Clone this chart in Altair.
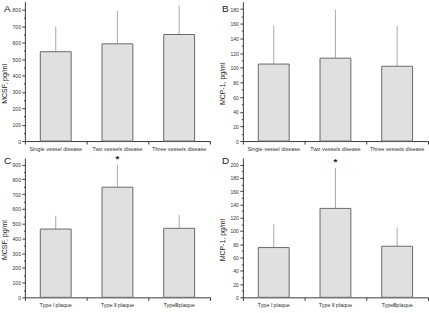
import altair as alt
import pandas as pd

# Group labels
vessel_groups = ["Single vessel disease", "Two vessels disease", "Three vessels disease"]
plaque_groups = ["Type Ⅰ plaque", "Type Ⅱ plaque", "TypeⅢplaque"]

# Means and standard deviations (pg/ml)
mcsf_vessel_mean = [545, 593, 650]
mcsf_vessel_sd = [152, 200, 177]
mcp_vessel_mean = [105, 113, 102]
mcp_vessel_sd = [52, 66, 55]
mcsf_plaque_mean = [463, 747, 468]
mcsf_plaque_sd = [90, 150, 90]
mcp_plaque_mean = [75, 134, 77]
mcp_plaque_sd = [35, 61, 28]

# Significance markers
plaque_marks = ["", "*", ""]
no_marks = ["", "", ""]

# Y-axis tick positions (labelled majors, unlabelled minors in between)
mcsf_vessel_ticks = list(range(0, 801, 50))
mcp_vessel_ticks = list(range(0, 181, 10))
mcsf_plaque_ticks = list(range(0, 901, 50))
mcp_plaque_ticks = list(range(0, 201, 10))

FONT = "Liberation Sans"
AXIS_COLOR = "#3a3a3a"


def panel(letter, groups, means, sds, marks, ytitle, ymax, ticks, major, letter_y):
    df = pd.DataFrame({"group": groups, "mean": means, "sd": sds, "mark": marks})
    df["upper"] = df["mean"] + df["sd"]

    x_scale = alt.Scale(paddingInner=0, paddingOuter=0)
    # category labels centred under the bars
    label_axis = alt.Axis(
        title=None, orient="bottom", labelAngle=0, ticks=False,
        labelPadding=5, labelFontSize=5.5,
    )
    # ticks on the category boundaries
    tick_axis = alt.Axis(
        title=None, orient="bottom", labels=False, domain=False,
        tickBand="extent", tickSize=3,
    )
    y_axis = alt.Axis(
        title=ytitle,
        values=ticks,
        labelExpr=f"datum.value % {major} === 0 ? datum.label : ''",
        labelOverlap=False,
        tickSize={"condition": {"test": f"datum.value % {major} !== 0", "value": 1.5}, "value": 3},
        grid=False,
        labelPadding=1.5,
        labelFontSize=5,
        titleFontSize=7,
        titleFontWeight="normal",
        titleColor="#222222",
        titleX=-17,
        titleY=82,
    )
    y_scale = alt.Scale(domain=[0, ymax], nice=False)

    base = alt.Chart(df)
    err = base.mark_rule(color="#a8a8a8", strokeWidth=1).encode(
        x=alt.X("group:N", sort=groups, scale=x_scale, axis=tick_axis),
        y=alt.Y("mean:Q", scale=y_scale, axis=y_axis),
        y2="upper:Q",
    )
    bars = base.mark_bar(size=31, fill="#e0e0e0", stroke="#6a6a6a", strokeWidth=1).encode(
        x=alt.X("group:N", sort=groups, scale=x_scale, axis=label_axis),
        y=alt.Y("mean:Q", scale=y_scale, axis=y_axis),
    )
    stars = base.transform_filter("datum.mark !== ''").mark_text(
        fontSize=10, fontWeight="bold", dy=-3, baseline="alphabetic", color="#222222"
    ).encode(
        x=alt.X("group:N", sort=groups, scale=x_scale, axis=None),
        y=alt.Y("upper:Q", scale=y_scale, axis=y_axis),
        text="mark:N",
    )
    label = alt.Chart(pd.DataFrame({"t": [letter]})).mark_text(
        align="left", baseline="top", fontSize=10, font=FONT, color="#222222"
    ).encode(x=alt.value(-21), y=alt.value(letter_y), text="t:N")

    return (
        alt.layer(err, bars, stars, label)
        .resolve_axis(x="independent")
        .properties(width=186, height=140)
    )


a = panel("A", vessel_groups, mcsf_vessel_mean, mcsf_vessel_sd, no_marks,
          "MCSF, pg/ml", 850, mcsf_vessel_ticks, 100, 2)
b = panel("B", vessel_groups, mcp_vessel_mean, mcp_vessel_sd, no_marks,
          "MCP-1, pg/ml", 190, mcp_vessel_ticks, 20, 2)
c = panel("C", plaque_groups, mcsf_plaque_mean, mcsf_plaque_sd, plaque_marks,
          "MCSF, pg/ml", 945, mcsf_plaque_ticks, 100, -2)
d = panel("D", plaque_groups, mcp_plaque_mean, mcp_plaque_sd, plaque_marks,
          "MCP-1, pg/ml", 210, mcp_plaque_ticks, 20, -2)

chart = alt.vconcat(
    alt.hconcat(a, b, spacing=8),
    alt.hconcat(c, d, spacing=8),
    spacing=2,
).properties(
    padding={"left": 1, "top": 1, "right": 0, "bottom": 0},
    background="white",
).configure_view(
    stroke=None
).configure_axis(
    labelFont=FONT,
    titleFont=FONT,
    labelColor="#333333",
    domainColor=AXIS_COLOR,
    tickColor=AXIS_COLOR,
    domainWidth=1,
    tickWidth=1,
)

chart.save("out.html", embed_options={"renderer": "svg", "actions": False})
